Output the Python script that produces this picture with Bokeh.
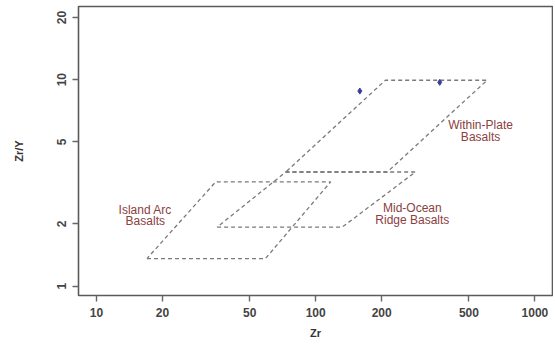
from bokeh.plotting import figure
from bokeh.models import FixedTicker, Range1d
from bokeh.core.properties import value
from bokeh.embed import file_html
from bokeh.resources import INLINE

# Field boundaries (Zr, Zr/Y), Pearce & Norry style
iab_zr = [17.0, 59.0, 117.0, 35.0]
iab_zry = [1.36, 1.36, 3.2, 3.2]
morb_zr = [35.5, 132.0, 285.0, 73.0]
morb_zry = [1.93, 1.93, 3.57, 3.57]
wpb_zr = [73.0, 212.0, 605.0, 208.0]
wpb_zry = [3.57, 3.57, 9.93, 9.93]

# Samples
sample_zr = [159.0, 368.0]
sample_zry = [8.8, 9.7]

x_ticks = [10, 20, 50, 100, 200, 500, 1000]
y_ticks = [1, 2, 5, 10, 20]

p = figure(width=553, height=345, x_axis_type="log", y_axis_type="log",
           x_range=Range1d(8.28, 1203), y_range=Range1d(0.901, 22.6),
           output_backend="svg", toolbar_location=None,
           min_border_left=78, min_border_right=1, min_border_top=6, min_border_bottom=50)

p.grid.visible = False
p.outline_line_color = "#5a5a5a"
p.outline_line_width = 1.6
p.background_fill_color = "white"
p.border_fill_color = "white"

font = "Liberation Sans"
for ax in (p.xaxis[0], p.yaxis[0]):
    ax.axis_line_color = None
    ax.major_tick_line_color = "#666666"
    ax.major_tick_line_width = 1.4
    ax.major_tick_out = 6
    ax.major_tick_in = 0
    ax.minor_tick_line_color = None
    ax.major_label_text_font = font
    ax.major_label_text_font_size = "12px"
    ax.major_label_text_font_style = "bold"
    ax.major_label_text_color = "#444444"
    ax.axis_label_text_font = font
    ax.axis_label_text_font_size = "11px"
    ax.axis_label_text_font_style = "bold"
    ax.axis_label_text_color = "#333333"

p.xaxis.ticker = FixedTicker(ticks=x_ticks)
p.yaxis.ticker = FixedTicker(ticks=y_ticks)
p.xaxis.major_label_overrides = {t: str(t) for t in x_ticks}
p.yaxis.major_label_overrides = {t: str(t) for t in y_ticks}
p.xaxis.major_label_standoff = 6
p.yaxis.major_label_standoff = 6
p.yaxis.major_label_orientation = "vertical"
p.xaxis.axis_label = "Zr"
p.yaxis.axis_label = "Zr/Y"
p.xaxis.axis_label_standoff = 7
p.yaxis.axis_label_standoff = 30

for xs, ys in ((wpb_zr, wpb_zry), (morb_zr, morb_zry), (iab_zr, iab_zry)):
    p.line(xs + xs[:1], ys + ys[:1], line_color="#7a7a7a", line_width=1.3, line_dash="4 3")

p.scatter(sample_zr, sample_zry, marker="diamond", size=6,
          fill_color="#3c3c9e", line_color="#3c3c9e")

lab_color = "#8b4040"
labels = [
    (565, 6.0, "Within-Plate"), (565, 5.25, "Basalts"),
    (276, 2.38, "Mid-Ocean"), (276, 2.10, "Ridge Basalts"),
    (16.7, 2.35, "Island Arc"), (16.7, 2.06, "Basalts"),
]
p.text([l[0] for l in labels], [l[1] for l in labels], text=[l[2] for l in labels],
       text_font=value(font), text_font_size="12px", text_color=lab_color,
       text_align="center", text_baseline="middle")

open("out.html", "w").write(file_html(p, INLINE))
